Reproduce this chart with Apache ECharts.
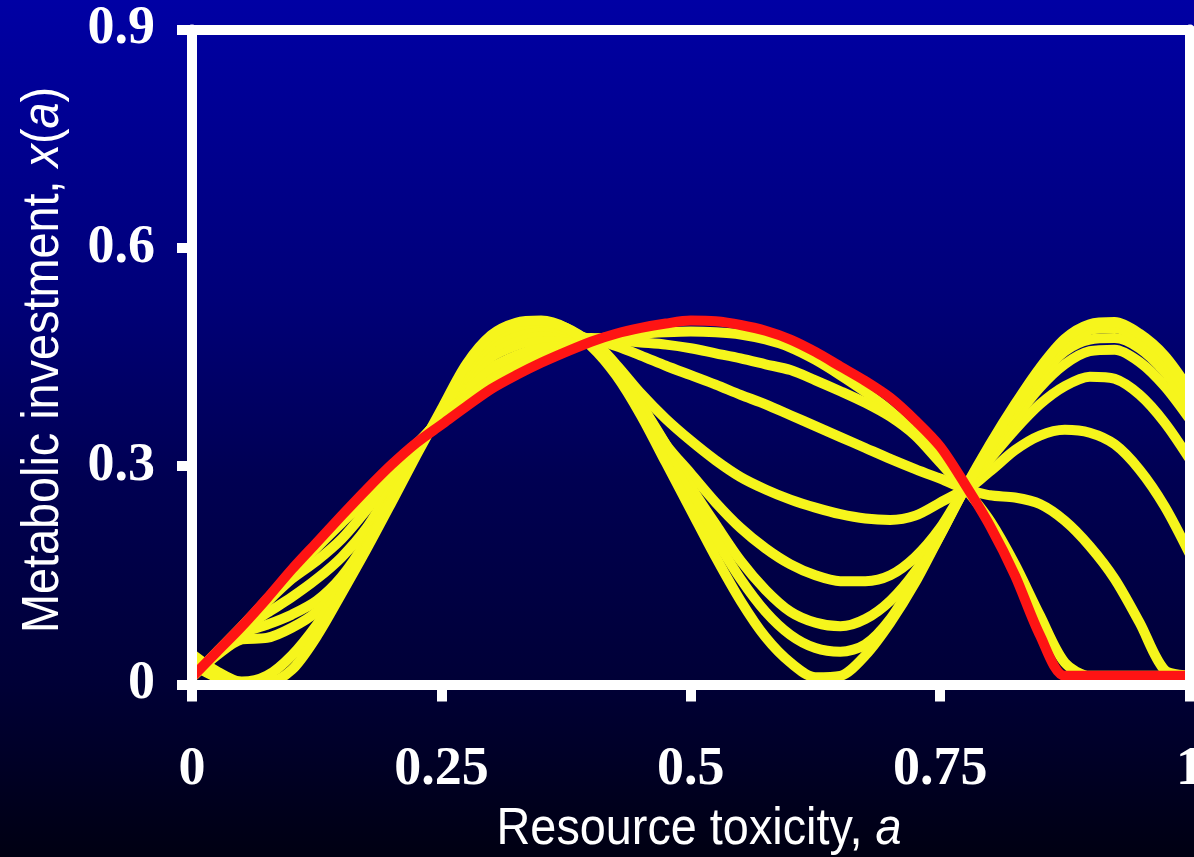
<!DOCTYPE html>
<html><head><meta charset="utf-8">
<script src="https://cdn.jsdelivr.net/npm/echarts@6/dist/echarts.min.js"></script>
<style>html,body{margin:0;padding:0;background:#000;}#c{width:1194px;height:857px;}</style>
</head><body><div id="c"></div>
<script>
const toxicity = [0,0.025,0.05,0.075,0.1,0.125,0.15,0.175,0.2,0.225,0.25,0.275,0.3,0.325,0.35,0.375,0.4,0.425,0.45,0.475,0.5,0.525,0.55,0.575,0.6,0.625,0.65,0.675,0.7,0.725,0.75,0.775,0.8,0.825,0.85,0.875,0.9,0.925,0.95,0.975,1];
const xTickLabels = ['0','0.25','0.5','0.75','1'];
const yTickLabels = ['0','0.3','0.6','0.9'];
const xTitle = 'Resource toxicity, {i|a}';
const yTitle = 'Metabolic investment, {i|x}({i|a})';
const redCurve = [0.010,0.045,0.080,0.118,0.158,0.195,0.232,0.268,0.302,0.332,0.357,0.382,0.406,0.425,0.442,0.457,0.471,0.482,0.490,0.496,0.500,0.499,0.494,0.486,0.474,0.457,0.437,0.417,0.394,0.363,0.327,0.275,0.218,0.150,0.068,0.012,0.012,0.012,0.012,0.012,0.012];
const yellow1 = [0.010,0.045,0.080,0.117,0.156,0.193,0.230,0.265,0.300,0.331,0.360,0.390,0.416,0.434,0.450,0.464,0.474,0.478,0.482,0.484,0.485,0.484,0.481,0.474,0.463,0.446,0.425,0.402,0.376,0.345,0.310,0.270,0.225,0.165,0.095,0.030,0.012,0.012,0.012,0.012,0.012];
const yellow2 = [0.010,0.044,0.079,0.116,0.153,0.188,0.222,0.256,0.293,0.330,0.363,0.398,0.423,0.440,0.455,0.466,0.476,0.473,0.470,0.467,0.462,0.455,0.448,0.440,0.432,0.418,0.403,0.387,0.368,0.342,0.305,0.270,0.260,0.257,0.248,0.225,0.190,0.145,0.085,0.020,0.012];
const yellow3 = [0.010,0.044,0.078,0.113,0.145,0.170,0.200,0.240,0.285,0.330,0.366,0.408,0.435,0.452,0.464,0.472,0.475,0.465,0.452,0.438,0.425,0.412,0.398,0.385,0.370,0.355,0.340,0.325,0.310,0.296,0.283,0.270,0.293,0.322,0.342,0.350,0.346,0.330,0.295,0.245,0.180];
const yellow4 = [0.010,0.043,0.075,0.098,0.120,0.145,0.175,0.215,0.270,0.327,0.368,0.420,0.450,0.466,0.476,0.479,0.474,0.440,0.400,0.365,0.335,0.308,0.285,0.268,0.254,0.243,0.234,0.228,0.226,0.232,0.250,0.270,0.310,0.350,0.385,0.410,0.423,0.420,0.398,0.360,0.310];
const yellow5 = [0.010,0.042,0.070,0.082,0.096,0.115,0.148,0.198,0.262,0.325,0.370,0.425,0.460,0.477,0.485,0.484,0.470,0.435,0.385,0.330,0.290,0.250,0.215,0.187,0.165,0.150,0.142,0.142,0.150,0.175,0.215,0.270,0.315,0.365,0.408,0.440,0.458,0.460,0.443,0.410,0.365];
const yellow6 = [0.010,0.040,0.062,0.064,0.078,0.100,0.138,0.193,0.258,0.322,0.372,0.430,0.468,0.485,0.492,0.487,0.470,0.435,0.385,0.330,0.272,0.220,0.170,0.130,0.100,0.085,0.080,0.090,0.115,0.155,0.210,0.270,0.320,0.375,0.423,0.458,0.474,0.476,0.462,0.430,0.385];
const yellow7 = [0.028,0.010,0.004,0.012,0.040,0.082,0.134,0.190,0.255,0.320,0.373,0.435,0.475,0.492,0.497,0.490,0.468,0.432,0.380,0.320,0.260,0.200,0.145,0.100,0.068,0.050,0.045,0.055,0.090,0.145,0.205,0.270,0.325,0.380,0.430,0.468,0.487,0.490,0.475,0.445,0.395];
const yellow8 = [0.042,0.018,0.003,0.002,0.020,0.066,0.125,0.186,0.250,0.315,0.378,0.440,0.480,0.497,0.500,0.490,0.465,0.425,0.370,0.305,0.240,0.175,0.115,0.065,0.030,0.010,0.012,0.040,0.085,0.140,0.205,0.270,0.330,0.385,0.435,0.475,0.495,0.498,0.482,0.452,0.405];

const yellowCurves = [yellow1,yellow2,yellow3,yellow4,yellow5,yellow6,yellow7,yellow8];
const pairs = arr => toxicity.map((a,i)=>[a, arr[i]]);
const YELLOW = '#f6f51c', RED = '#fe1414', WHITE = '#ffffff';
const serif = "'Liberation Serif','Times New Roman',serif";
const sans = "'Liberation Sans',Arial,sans-serif";
const LW = 10;

const series = yellowCurves.map((d,i)=>({
  type:'line', name:'y'+(i+1), data: pairs(d), symbol:'none', smooth:0.3,
  clip:true, z:2, lineStyle:{color:YELLOW, width:LW, join:'round'}, silent:true
}));
series.push({type:'line', name:'red', data: pairs(redCurve), symbol:'none', smooth:0.3,
  clip:true, z:3, lineStyle:{color:RED, width:LW, join:'round'}, silent:true});

const axisLineStyle = {show:true, onZero:false, lineStyle:{color:WHITE, width:10}};
const titleStyle = (text) => ({
  text: text, fill: WHITE, fontFamily: sans, fontSize: 52, align:'center', verticalAlign:'middle',
  rich:{i:{fill:WHITE, fontFamily:sans, fontSize:52, fontStyle:'italic'}}
});

const chart = echarts.init(document.getElementById('c'), null, {renderer:'canvas'});
chart.setOption({
  animation:false,
  backgroundColor:{type:'linear', x:0, y:0, x2:0, y2:1, colorStops:[
    {offset:0, color:'#0000a4'},{offset:0.35, color:'#000078'},
    {offset:0.56, color:'#000052'},{offset:0.8, color:'#000036'},{offset:1, color:'#000012'}]},
  grid:{left:192, right:4.5, top:29.5, bottom:172.5, containLabel:false, outerBoundsMode:'none'},
  xAxis:[{
    type:'value', min:0, max:1, interval:0.25, position:'bottom', z:5,
    axisLine:axisLineStyle,
    axisTick:{show:true, inside:false, length:17, lineStyle:{color:WHITE, width:10}},
    axisLabel:{show:true, margin:59, color:WHITE, fontFamily:serif, fontWeight:'bold', fontSize:54,
      showMinLabel:true, showMaxLabel:true, hideOverlap:false,
      formatter:v=>xTickLabels[Math.round(v/0.25)]},
    splitLine:{show:false}
  },{
    type:'value', min:0, max:1, interval:0.25, position:'top', z:5,
    axisLine:axisLineStyle, axisTick:{show:false}, axisLabel:{show:false}, splitLine:{show:false}
  }],
  yAxis:[{
    type:'value', min:0, max:0.9, interval:0.3, position:'left', z:5,
    axisLine:axisLineStyle,
    axisTick:{show:true, inside:false, length:15, lineStyle:{color:WHITE, width:10}},
    axisLabel:{show:true, margin:37, color:WHITE, fontFamily:serif, fontWeight:'bold', fontSize:54,
      showMinLabel:true, showMaxLabel:true,
      formatter:v=>yTickLabels[Math.round(v/0.3)]},
    splitLine:{show:false}
  },{
    type:'value', min:0, max:0.9, interval:0.3, position:'right', z:5,
    axisLine:axisLineStyle, axisTick:{show:false}, axisLabel:{show:false}, splitLine:{show:false}
  }],
  graphic:[
    {type:'text', x:699, y:830, scaleX:0.9, silent:true, style:titleStyle(xTitle)},
    {type:'text', x:44, y:360, rotation:Math.PI/2, scaleX:0.9, silent:true, style:titleStyle(yTitle)}
  ],
  series:series
});
</script></body></html>
